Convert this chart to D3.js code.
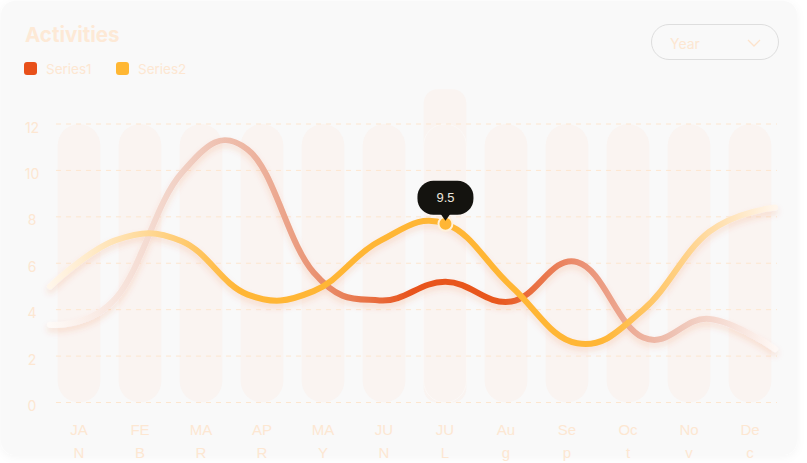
<!DOCTYPE html>
<html>
<head>
<meta charset="utf-8">
<script src="https://cdn.jsdelivr.net/npm/d3@7"></script>
<style>
  html, body { margin: 0; padding: 0; background: #ffffff; }
  svg { display: block; }
</style>
</head>
<body>
<div id="chart"></div>
<script>
const months = ['JAN', 'FEB', 'MAR', 'APR', 'MAY', 'JUN', 'JUL', 'Aug', 'Sep', 'Oct', 'Nov', 'Dec'];
const series1 = [3.35, 4.5, 9.9, 10.9, 5.6, 4.4, 5.2, 4.35, 6.05, 2.8, 3.6, 2.3];
const series2 = [5.0, 7.0, 6.95, 4.65, 4.8, 6.95, 7.7, 5.0, 2.55, 4.0, 7.35, 8.4];
const seriesNames = ['Series1', 'Series2'];
const yTicks = [0, 2, 4, 6, 8, 10, 12];
const columnMax = 12;
const hoverIndex = 6;
const hoverTop = 13.5;
const tooltipText = '9.5';

const width = 807, height = 463;
const peach = '#fde7d2';

const svg = d3.select('#chart')
    .append('svg')
    .attr('width', width)
    .attr('height', height);

const defs = svg.append('defs');

const cardShadow = defs.append('filter').attr('id', 'cardShadow')
    .attr('x', '-5%').attr('y', '-5%').attr('width', '110%').attr('height', '115%');
cardShadow.append('feDropShadow')
    .attr('dx', 0).attr('dy', 2).attr('stdDeviation', 4)
    .attr('flood-color', '#000').attr('flood-opacity', 0.04);

const lineShadow = defs.append('filter').attr('id', 'lineShadow')
    .attr('x', '-10%').attr('y', '-20%').attr('width', '120%').attr('height', '150%');
lineShadow.append('feDropShadow')
    .attr('dx', 0).attr('dy', 4).attr('stdDeviation', 3)
    .attr('flood-color', '#e8531b').attr('flood-opacity', 0.15);

// card
svg.append('rect')
    .attr('x', 1).attr('y', 1)
    .attr('width', 796).attr('height', 454)
    .attr('rx', 14)
    .attr('fill', '#f9f9f9')
    .attr('filter', 'url(#cardShadow)');

// title + legend
svg.append('text')
    .attr('x', 25).attr('y', 42)
    .attr('font-family', 'Inter, sans-serif')
    .attr('font-weight', 700)
    .attr('font-size', 20.5)
    .attr('fill', '#fde9d6')
    .text('Activities');

const legendColors = ['#e8501a', '#ffb733'];
const legend = svg.selectAll('.legend')
    .data(seriesNames)
    .enter()
    .append('g')
    .attr('class', 'legend')
    .attr('transform', (d, i) => `translate(${24 + i * 92}, 62)`);
legend.append('rect')
    .attr('width', 13).attr('height', 13).attr('rx', 3)
    .attr('fill', (d, i) => legendColors[i]);
legend.append('text')
    .attr('x', 22).attr('y', 7)
    .attr('dominant-baseline', 'central')
    .attr('font-family', 'Inter, sans-serif')
    .attr('font-size', 13.5)
    .attr('fill', peach)
    .text(d => d);

// year dropdown
const drop = svg.append('g').attr('transform', 'translate(651, 24)');
drop.append('rect')
    .attr('x', 0.5).attr('y', 0.5)
    .attr('width', 127).attr('height', 35).attr('rx', 17.5)
    .attr('fill', 'none')
    .attr('stroke', '#dedede');
drop.append('text')
    .attr('x', 19).attr('y', 19)
    .attr('dominant-baseline', 'central')
    .attr('font-family', 'Inter, sans-serif')
    .attr('font-size', 14)
    .attr('fill', peach)
    .text('Year');
drop.append('path')
    .attr('d', 'M97,16 L103,22 L109,16')
    .attr('fill', 'none')
    .attr('stroke', '#fde3cc')
    .attr('stroke-width', 1.3);

// scales
const y = d3.scaleLinear().domain([0, 12]).range([402.5, 124]);
const xBand = d3.scaleBand().domain(months).range([48.5, 780.5])
    .paddingInner(0.3).paddingOuter(0.15);
const xPoint = d3.scalePoint().domain(months).range([50, 775]);

// background columns (hovered one is taller, behind the rest)
const cols = svg.append('g');
cols.append('rect')
    .attr('x', xBand(months[hoverIndex]))
    .attr('width', xBand.bandwidth())
    .attr('y', y(hoverTop))
    .attr('height', y(0) - y(hoverTop))
    .attr('rx', 14)
    .attr('fill', '#faf4f1');
cols.selectAll('.col')
    .data(months)
    .enter()
    .append('rect')
    .attr('class', 'col')
    .attr('x', d => xBand(d))
    .attr('width', xBand.bandwidth())
    .attr('y', y(columnMax))
    .attr('height', y(0) - y(columnMax))
    .attr('rx', xBand.bandwidth() / 2)
    .attr('fill', '#faf4f1')
    .attr('stroke', (d, i) => i === hoverIndex ? '#fcf9f7' : 'none');

// grid + y labels
const grid = svg.append('g');
grid.selectAll('line')
    .data(yTicks)
    .enter()
    .append('line')
    .attr('x1', 56).attr('x2', 777)
    .attr('y1', d => y(d)).attr('y2', d => y(d))
    .attr('stroke', '#fde6cf')
    .attr('stroke-width', 1)
    .attr('stroke-dasharray', '5 5');
grid.selectAll('text')
    .data(yTicks)
    .enter()
    .append('text')
    .attr('x', 32)
    .attr('y', d => y(d) + 3)
    .attr('text-anchor', 'middle')
    .attr('dominant-baseline', 'central')
    .attr('font-family', 'Inter, sans-serif')
    .attr('font-size', 14)
    .attr('fill', peach)
    .text(d => d);

// x labels, wrapped to two lines like the narrow original
const xl = svg.append('g').selectAll('text')
    .data(months)
    .enter()
    .append('text')
    .attr('text-anchor', 'middle')
    .attr('font-family', 'Liberation Sans, Arial, sans-serif')
    .attr('font-size', 15)
    .attr('fill', peach);
xl.append('tspan')
    .attr('x', d => xBand(d) + xBand.bandwidth() / 2)
    .attr('y', 435)
    .text(d => d.slice(0, 2));
xl.append('tspan')
    .attr('x', d => xBand(d) + xBand.bandwidth() / 2)
    .attr('y', 458)
    .text(d => d.slice(2));

// gradients for the lines
function addGradient(id, stops) {
    const g = defs.append('linearGradient')
        .attr('id', id)
        .attr('gradientUnits', 'userSpaceOnUse')
        .attr('x1', xPoint.range()[0]).attr('x2', xPoint.range()[1])
        .attr('y1', 0).attr('y2', 0);
    g.selectAll('stop')
        .data(stops)
        .enter()
        .append('stop')
        .attr('offset', d => d[0])
        .attr('stop-color', d => d[1]);
}
addGradient('grad1', [
    [0, '#fefaf7'], [0.18, '#f1d0c4'], [0.3, '#ecae98'], [0.4, '#e8845e'],
    [0.5, '#e8531b'], [0.62, '#e8581f'], [0.74, '#eb9478'], [0.86, '#eec2b3'], [1, '#fef8f5']
]);
addGradient('grad2', [
    [0, '#fff6ea'], [0.12, '#ffdca0'], [0.26, '#ffb636'], [0.76, '#ffb636'],
    [0.88, '#ffd38c'], [1, '#fff6ec']
]);

const line = d3.line()
    .x((d, i) => xPoint(months[i]))
    .y(d => y(d))
    .curve(d3.curveCardinal.tension(-0.2));

const lines = svg.append('g').attr('filter', 'url(#lineShadow)');
lines.append('path')
    .attr('d', line(series1))
    .attr('fill', 'none')
    .attr('stroke', 'url(#grad1)')
    .attr('stroke-width', 6)
    .attr('stroke-linecap', 'round');
lines.append('path')
    .attr('d', line(series2))
    .attr('fill', 'none')
    .attr('stroke', 'url(#grad2)')
    .attr('stroke-width', 6)
    .attr('stroke-linecap', 'round');

// hovered point + tooltip
const hx = xPoint(months[hoverIndex]);
const hy = y(series2[hoverIndex]);
svg.append('circle')
    .attr('cx', hx).attr('cy', hy).attr('r', 7)
    .attr('fill', '#ffb636')
    .attr('stroke', '#fff1dc')
    .attr('stroke-width', 2);

const tip = svg.append('g').attr('transform', `translate(${hx}, ${hy})`);
tip.append('rect')
    .attr('x', -28).attr('y', -43)
    .attr('width', 56).attr('height', 34).attr('rx', 16)
    .attr('fill', '#14130f');
tip.append('path')
    .attr('d', 'M-5,-10 L5,-10 L0,-3 Z')
    .attr('fill', '#14130f');
tip.append('text')
    .attr('x', 0).attr('y', -26)
    .attr('text-anchor', 'middle')
    .attr('dominant-baseline', 'central')
    .attr('font-family', 'Liberation Sans, Arial, sans-serif')
    .attr('font-size', 13)
    .attr('fill', '#ece6de')
    .text(tooltipText);
</script>
</body>
</html>
